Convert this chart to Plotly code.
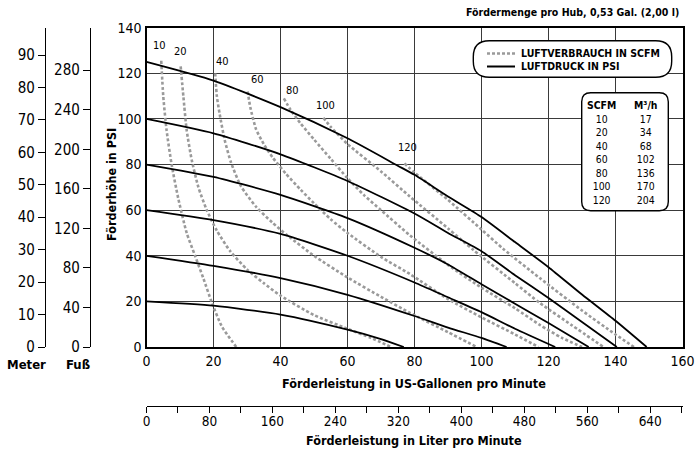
import plotly.graph_objects as go

# ---------------- data ----------------
# Air pressure curves (LUFTDRUCK IN PSI): flow in US gpm -> head in PSI
psi20_x = [0, 20, 40, 60, 70, 76.8]
psi20_y = [20, 18.1, 14.2, 7.6, 3.5, 0]
psi40_x = [0, 20, 40, 60, 80, 90, 100, 107.5]
psi40_y = [40, 35.6, 30.2, 22.9, 13.6, 8.5, 4.0, 0]
psi60_x = [0, 20, 40, 60, 80, 90, 100, 110, 122]
psi60_y = [60, 55.6, 49.6, 40, 28.3, 21.8, 15.3, 8, 0]
psi80_x = [0, 20, 40, 60, 80, 90, 100, 110, 120, 132]
psi80_y = [80, 74.6, 66.7, 56.5, 43.5, 36.2, 27.5, 19, 10.5, 0]
psi100_x = [0, 20, 40, 60, 80, 90, 100, 110, 120, 130, 140.4]
psi100_y = [100, 93.7, 84.5, 72.8, 58.5, 50, 42, 31.5, 21.5, 11, 0]
psi125_x = [0, 20, 40, 60, 75, 80, 90, 100, 110, 120, 130, 140, 149.3]
psi125_y = [125, 116.8, 105.2, 91.5, 79.5, 75.5, 66, 57, 46, 35, 23, 11.5, 0]

# Air consumption curves (LUFTVERBRAUCH IN SCFM)
scfm10_x = [4.4, 5, 6, 7.5, 9.5, 12, 14.5, 17, 19.5, 22.5, 26.8]
scfm10_y = [125.5, 110, 95, 80, 65, 50, 40, 30, 19.5, 9, 0]
scfm20_x = [10.2, 11, 12, 13.5, 15.5, 18, 21, 25, 30, 35, 40, 50, 60, 67, 73]
scfm20_y = [123, 110, 95, 82, 70, 60, 51, 42, 34, 28, 22.5, 14, 8, 4, 0]
scfm40_x = [20.5, 21, 21.8, 23.3, 25.2, 28.2, 32.7, 37.6, 42, 50, 60, 70, 78.6, 90, 98.6]
scfm40_y = [120, 110, 102.5, 91, 81, 70.5, 61.5, 54.5, 49, 40, 30.5, 22, 15, 6.5, 0]
scfm60_x = [30.2, 31, 32.7, 35, 37.7, 41.6, 46, 50, 55, 60, 70, 78.6, 90, 100, 110, 117]
scfm60_y = [112, 105, 95.5, 89, 83, 76, 69, 63, 56, 50, 39.5, 32, 21, 13, 5.5, 0]
scfm80_x = [41, 43, 46, 50, 55, 60, 65, 70, 78.6, 90, 100, 110, 117.5, 124, 130]
scfm80_y = [109, 104, 98, 91, 82.5, 74, 66.5, 60, 49, 36, 26, 17, 9.6, 4, 0]
scfm100_x = [52.8, 55, 60, 70, 78.6, 90, 97.6, 110, 117.5, 127, 136.4]
scfm100_y = [100.5, 96.5, 89, 77, 66, 52, 42.5, 28, 19.2, 9.5, 0]
scfm120_x = [77, 80, 90, 100, 106.5, 117.5, 130, 140, 145.5]
scfm120_y = [80.5, 76.5, 64.5, 51.5, 43, 30.1, 16, 5.5, 0]

# Curve labels (SCFM value and label position in gpm / PSI)
curve_labels = ["10", "20", "40", "60", "80", "100", "120"]
label_x = [3.9, 10.1, 22.6, 33.0, 43.7, 53.3, 77.8]
label_y = [132.0, 129.5, 125.4, 117.5, 112.3, 105.7, 87.3]

# Conversion table
table_scfm = ["10", "20", "40", "60", "80", "100", "120"]
table_m3h = ["17", "34", "68", "102", "136", "170", "204"]

legend_labels = ["LUFTVERBRAUCH IN SCFM", "LUFTDRUCK IN PSI"]

# Axis ticks
gpm_ticks = [0, 20, 40, 60, 80, 100, 120, 140, 160]
psi_ticks = [0, 20, 40, 60, 80, 100, 120, 140]
meter_ticks = [0, 10, 20, 30, 40, 50, 60, 70, 80, 90]
fuss_ticks = [0, 40, 80, 120, 160, 200, 240, 280]
liter_ticks = [0, 80, 160, 240, 320, 400, 480, 560, 640]

# ---------------- figure ----------------
W, H = 700, 454
FONT = "DejaVu Sans Condensed, Liberation Sans Narrow, Liberation Sans, Arial, sans-serif"

def px(x):
    return x / W

def py(y):
    return 1 - y / H

fig = go.Figure()

gray = "#9a9a9a"
for xs, ys in [(scfm10_x, scfm10_y), (scfm20_x, scfm20_y), (scfm40_x, scfm40_y),
               (scfm60_x, scfm60_y), (scfm80_x, scfm80_y), (scfm100_x, scfm100_y),
               (scfm120_x, scfm120_y)]:
    fig.add_trace(go.Scatter(x=xs, y=ys, mode="lines",
                             line=dict(color=gray, width=2.6, dash="3px,2.2px",
                                       shape="spline", smoothing=0.6),
                             hoverinfo="skip"))

for xs, ys in [(psi20_x, psi20_y), (psi40_x, psi40_y), (psi60_x, psi60_y),
               (psi80_x, psi80_y), (psi100_x, psi100_y), (psi125_x, psi125_y)]:
    fig.add_trace(go.Scatter(x=xs, y=ys, mode="lines",
                             line=dict(color="black", width=1.8,
                                       shape="spline", smoothing=0.6),
                             hoverinfo="skip"))

# empty traces so that the secondary scales are drawn
fig.add_trace(go.Scatter(x=[], y=[], xaxis="x2", yaxis="y", hoverinfo="skip"))
fig.add_trace(go.Scatter(x=[], y=[], xaxis="x", yaxis="y2", hoverinfo="skip"))
fig.add_trace(go.Scatter(x=[], y=[], xaxis="x", yaxis="y3", hoverinfo="skip"))

for t, lx, ly in zip(curve_labels, label_x, label_y):
    fig.add_annotation(x=lx, y=ly, text=t, showarrow=False, xref="x", yref="y",
                       xanchor="center", yanchor="middle",
                       font=dict(family=FONT, size=11, color="black"))

x0p, x1p = 146.5, 682.5
ytop, ybot = 27.7, 347.0

fig.update_layout(
    template="none",
    width=W, height=H, margin=dict(l=0, r=0, t=0, b=0, pad=0, autoexpand=False),
    plot_bgcolor="white", paper_bgcolor="white", showlegend=False,
    font=dict(family=FONT, size=13, color="black"),
    xaxis=dict(domain=[px(x0p), px(x1p)], range=[0, 160], tickvals=gpm_ticks,
               showgrid=True, gridcolor="#3a3a3a", gridwidth=1.1, automargin=False,
               showline=True, linecolor="black", linewidth=2.2, mirror=True,
               zeroline=False, ticks="", tickfont=dict(size=14), anchor="y"),
    yaxis=dict(domain=[py(ybot), py(ytop)], range=[0, 140], tickvals=psi_ticks,
               showgrid=True, gridcolor="#3a3a3a", gridwidth=1.1, automargin=False,
               showline=True, linecolor="black", linewidth=2.2, mirror=True,
               zeroline=False, ticks="", tickfont=dict(size=14), anchor="x"),
    xaxis2=dict(overlaying="x", anchor="free", position=py(406), side="bottom",
                range=[0, 681], tickvals=liter_ticks, showgrid=False, zeroline=False,
                showline=True, linecolor="black", linewidth=1.2, automargin=False,
                ticks="outside", ticklen=6, tickcolor="black", tickwidth=1.2,
                ticklabelstandoff=-3,
                minor=dict(dtick=40, tick0=0, ticks="outside", ticklen=6,
                           tickcolor="black", tickwidth=1.2),
                tickfont=dict(size=13.5)),
    yaxis2=dict(overlaying="y", anchor="free", position=px(45), side="left",
                range=[0, 140 * 0.70307], tickvals=meter_ticks, showgrid=False,
                zeroline=False, showline=True, linecolor="black", linewidth=1.3,
                ticks="outside", ticklen=7, tickcolor="black", tickwidth=1.2,
                automargin=False, tickfont=dict(size=15)),
    yaxis3=dict(overlaying="y", anchor="free", position=px(90), side="left",
                range=[0, 140 * 2.3067], tickvals=fuss_ticks, showgrid=False,
                zeroline=False, showline=True, linecolor="black", linewidth=1.3,
                ticks="outside", ticklen=7, tickcolor="black", tickwidth=1.2,
                automargin=False, tickfont=dict(size=15)),
)

def rounded_rect(xa, ya, xb, yb, r):
    def P(x, y):
        return f"{px(x):.5f},{py(y):.5f}"
    return (f"M {P(xa + r, ya)} L {P(xb - r, ya)} Q {P(xb, ya)} {P(xb, ya + r)} "
            f"L {P(xb, yb - r)} Q {P(xb, yb)} {P(xb - r, yb)} "
            f"L {P(xa + r, yb)} Q {P(xa, yb)} {P(xa, yb - r)} "
            f"L {P(xa, ya + r)} Q {P(xa, ya)} {P(xa + r, ya)} Z")

def label(xp, yp, text, size, xanchor="center", angle=0):
    fig.add_annotation(x=px(xp), y=py(yp), xref="paper", yref="paper", text=text,
                       showarrow=False, xanchor=xanchor, yanchor="middle",
                       textangle=angle, font=dict(family=FONT, size=size, color="black"))

# legend pill
fig.add_shape(type="path", xref="paper", yref="paper",
              path=rounded_rect(473.3, 40.7, 671.7, 77.3, 16),
              fillcolor="white", line=dict(color="black", width=1.4), layer="above")
fig.add_shape(type="line", xref="paper", yref="paper", x0=px(487), x1=px(515),
              y0=py(53.5), y1=py(53.5), line=dict(color=gray, width=2.4, dash="3px,2px"),
              layer="above")
fig.add_shape(type="line", xref="paper", yref="paper", x0=px(487), x1=px(515),
              y0=py(66.5), y1=py(66.5), line=dict(color="black", width=2),
              layer="above")
for lab, yy in zip(legend_labels, [53.5, 66.5]):
    label(519, yy, f"<b>{lab}</b>", 10.5, xanchor="left")

# table box (each column is one multi-line text)
fig.add_shape(type="path", xref="paper", yref="paper",
              path=rounded_rect(581.7, 92.7, 668.3, 210.7, 9),
              fillcolor="white", line=dict(color="black", width=1.4), layer="above")
label(601.5, 152.5, "<b>SCFM</b><br>" + "<br>".join(table_scfm), 10.4)
label(645, 152.5, "<b>M³/h</b><br>" + "<br>".join(table_m3h), 10.4)

# titles
label(681, 12, "<b>Fördermenge pro Hub, 0,53 Gal. (2,00 l)</b>", 10.5, xanchor="right")
label(414, 383, "<b>Förderleistung in US-Gallonen pro Minute</b>", 12.5)
label(414, 440, "<b>Förderleistung in Liter pro Minute</b>", 12.5)
label(112, 185, "<b>Förderhöhe in PSI</b>", 12.5, angle=-90)
label(26, 364, "<b>Meter</b>", 13)
label(78, 364, "<b>Fuß</b>", 13)

fig.write_html("out.html", config={"displayModeBar": False},
               post_script="document.body.style.margin='0';document.body.style.overflow='hidden';")
